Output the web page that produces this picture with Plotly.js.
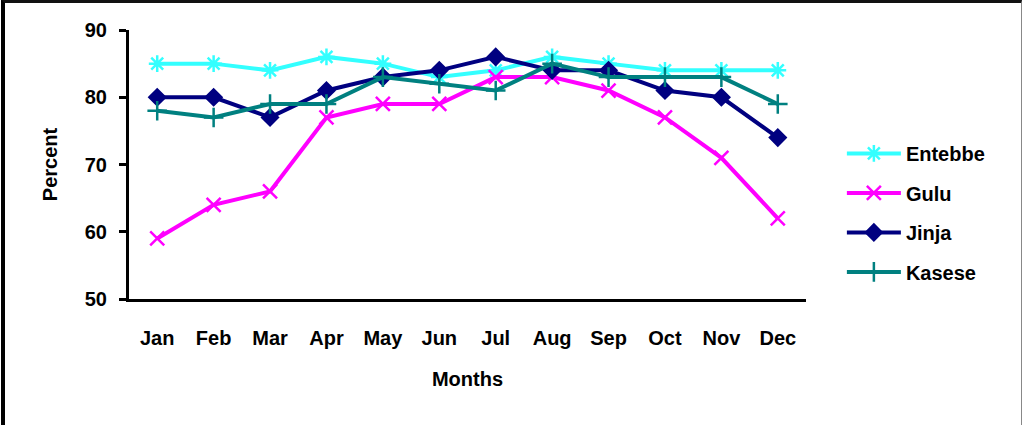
<!DOCTYPE html>
<html>
<head>
<meta charset="utf-8">
<script src="https://cdn.plot.ly/plotly-3.0.1.min.js"></script>
<style>
  html, body { margin: 0; padding: 0; background: #fff; }
  #wrap { position: relative; width: 1022px; height: 425px; overflow: hidden; }
  #chart { position: absolute; left: 0; top: 0; width: 1022px; height: 425px; }
  #frame { position: absolute; left: 1px; top: 0; width: 1016px; height: 440px;
           border-left: 4px solid #000; border-top: 3px solid #111; border-right: 1px solid #888;
           pointer-events: none; }
</style>
</head>
<body>
<div id="wrap">
  <div id="chart"></div>
  <div id="frame"></div>
</div>
<script>
const months = ["Jan","Feb","Mar","Apr","May","Jun","Jul","Aug","Sep","Oct","Nov","Dec"];
const entebbe = [85, 85, 84, 86, 85, 83, 84, 86, 85, 84, 84, 84];
const gulu    = [59, 64, 66, 77, 79, 79, 83, 83, 81, 77, 71, 62];
const jinja   = [80, 80, 77, 81, 83, 84, 86, 84, 84, 81, 80, 74];
const kasese  = [78, 77, 79, 79, 83, 82, 81, 85, 83, 83, 83, 79];
const yTicks = [50, 60, 70, 80, 90];

const FONT = "'Liberation Sans', Arial, sans-serif";
const FS = 20;

function series(name, y, color, symbol, msize) {
  return {
    type: 'scatter', mode: 'lines+markers', name: name, x: months, y: y,
    legendgroup: name,
    line: { color: color, width: 4 },
    marker: { symbol: symbol, size: msize, color: color, line: { color: color, width: 2.5 } }
  };
}

const data = [
  series('Entebbe', entebbe, '#33FFFF', 'asterisk-open', 14),
  series('Gulu', gulu, '#FF00FF', 'x-thin-open', 14),
  series('Jinja', jinja, '#000080', 'diamond', 12),
  series('Kasese', kasese, '#008080', 'cross-thin-open', 14)
];

const layout = {
  width: 1022, height: 425,
  margin: { l: 129, r: 216, t: 30, b: 126, pad: 0 },
  paper_bgcolor: '#fff', plot_bgcolor: '#fff',
  font: { family: FONT, size: FS, color: '#000', weight: 'bold' },
  showlegend: true,
  legend: {
    x: 1.053, xanchor: 'left', y: 0.32, yanchor: 'middle',
    font: { family: FONT, size: FS, color: '#000', weight: 'bold' },
    itemwidth: 54, tracegroupgap: 10.5, bgcolor: 'rgba(0,0,0,0)'
  },
  xaxis: {
    type: 'category', categoryarray: months, range: [-0.5, 11.5],
    showline: true, linecolor: '#000', linewidth: 3,
    showgrid: false, zeroline: false, ticks: '', ticklabelstandoff: 19,
    tickfont: { family: FONT, size: FS, color: '#000', weight: 'bold' },
    title: { text: 'Months', standoff: 24, font: { family: FONT, size: FS, color: '#000', weight: 'bold' } },
    automargin: false, fixedrange: true
  },
  yaxis: {
    range: [50, 90], tickvals: yTicks, ticktext: yTicks.map(String),
    showline: true, linecolor: '#000', linewidth: 3,
    showgrid: false, zeroline: false, ticks: 'outside', ticklen: 7, tickwidth: 3, tickcolor: '#000',
    ticklabelstandoff: 8,
    tickfont: { family: FONT, size: FS, color: '#000', weight: 'bold' },
    title: { text: 'Percent', standoff: 22, font: { family: FONT, size: FS, color: '#000', weight: 'bold' } },
    automargin: false, fixedrange: true
  }
};

Plotly.newPlot('chart', data, layout, { staticPlot: true, displayModeBar: false });
</script>
</body>
</html>
